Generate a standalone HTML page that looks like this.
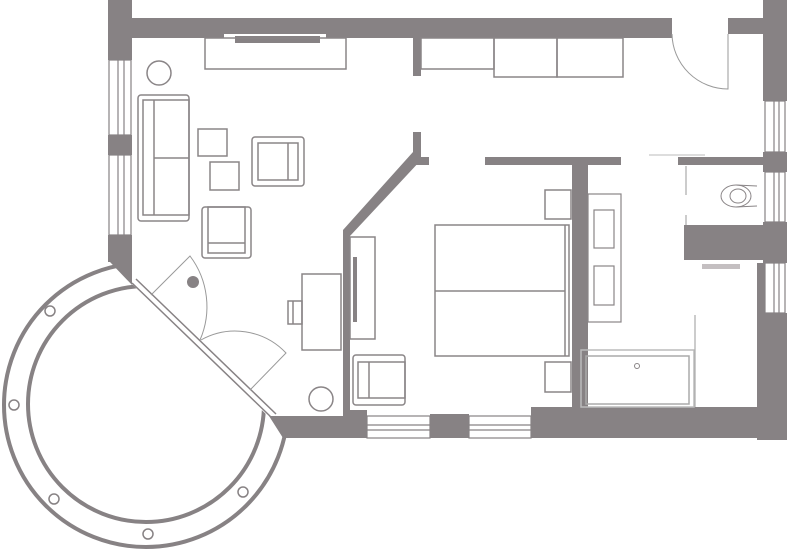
<!DOCTYPE html>
<html><head><style>html,body{margin:0;padding:0;background:#fff}svg{display:block}</style></head>
<body>
<svg width="787" height="549" viewBox="0 0 787 549" xmlns="http://www.w3.org/2000/svg">
<defs>
<clipPath id="cc"><polygon points="0,250 111,250 131,283 270,418 288,436 300,549 0,549"/></clipPath>
</defs>
<g fill="#878284">
<rect x="108" y="0" width="24" height="60"/>
<rect x="108" y="135" width="24" height="20"/>
<polygon points="108,235 132,235 132,285 110,262 108,262"/>
<rect x="132" y="18" width="540" height="20"/>
<rect x="728" y="18" width="37" height="16"/>
<rect x="763" y="0" width="24" height="101"/>
<rect x="763" y="152" width="24" height="20"/>
<rect x="763" y="222" width="24" height="41"/>
<rect x="757" y="313" width="30" height="127"/>
<rect x="757" y="263" width="8" height="50"/>
<rect x="678" y="157" width="85" height="8"/>
<rect x="684" y="225" width="79" height="35"/>
<polygon points="269,416 365,416 365,438 283,438"/>
<rect x="430" y="414" width="39" height="24"/>
<rect x="531" y="407" width="226" height="31"/>
<rect x="531" y="414" width="45" height="24"/>
<rect x="343" y="410" width="24" height="28"/>
<rect x="413" y="38" width="8" height="38"/>
<rect x="413" y="132" width="8" height="26"/>
<rect x="413" y="157" width="16" height="8"/>
<polygon points="413,152 421,160 350,236 350,416 343,416 343,230"/>
<rect x="485" y="157" width="136" height="8"/>
<rect x="572" y="165" width="16" height="250"/>
<circle cx="193" cy="282" r="6"/>
<rect x="353" y="257" width="4" height="65"/>
</g>
<rect x="224" y="34" width="102" height="4" fill="#fff"/>
<rect x="235" y="36" width="85" height="7" fill="#878284"/>
<rect x="702" y="264" width="38" height="5" fill="#c4bfc1"/>
<g fill="none" stroke="#878284" stroke-width="1.2">
<rect x="109" y="60" width="22" height="75"/><line x1="118" y1="60" x2="118" y2="135"/><line x1="124" y1="60" x2="124" y2="135"/>
<rect x="109" y="155" width="22" height="80"/><line x1="118" y1="155" x2="118" y2="235"/><line x1="124" y1="155" x2="124" y2="235"/>
<rect x="765" y="101" width="20" height="51"/><line x1="774" y1="101" x2="774" y2="152"/><line x1="779" y1="101" x2="779" y2="152"/>
<rect x="765" y="172" width="20" height="50"/><line x1="774" y1="172" x2="774" y2="222"/><line x1="779" y1="172" x2="779" y2="222"/>
<rect x="765" y="263" width="20" height="50"/><line x1="774" y1="263" x2="774" y2="313"/><line x1="779" y1="263" x2="779" y2="313"/>
<rect x="367" y="416" width="63" height="22"/><line x1="367" y1="425" x2="430" y2="425"/><line x1="367" y1="430" x2="430" y2="430"/>
<rect x="469" y="416" width="62" height="22"/><line x1="469" y1="425" x2="531" y2="425"/><line x1="469" y1="430" x2="531" y2="430"/>
</g>
<g clip-path="url(#cc)" fill="none" stroke="#878284" stroke-width="4">
<circle cx="146" cy="405" r="142"/>
<circle cx="146" cy="404" r="118"/>
</g>
<g fill="#fff" stroke="#878284" stroke-width="1.5">
<circle cx="50" cy="311" r="5"/><circle cx="14" cy="405" r="5"/><circle cx="54" cy="499" r="5"/><circle cx="148" cy="534" r="5"/><circle cx="243" cy="492" r="5"/>
</g>
<g stroke="#878284" stroke-width="1.5" fill="none">
<line x1="132" y1="283" x2="272" y2="418"/>
<line x1="136" y1="279" x2="276" y2="414"/>
</g>
<g fill="none" stroke="#999" stroke-width="1">
<path d="M151,295 L190,256 A84,84 0 0 1 200,340"/>
<path d="M201,340 A70,70 0 0 1 286,353 L250,390"/>
<path d="M672,34 A56,56 0 0 0 728,89 L728,34"/>
<line x1="649" y1="155" x2="705" y2="155" stroke="#bbb"/>
<line x1="686" y1="166" x2="686" y2="195"/>
<line x1="686" y1="215" x2="686" y2="225"/>
<line x1="695" y1="315" x2="695" y2="407"/>
</g>
<g fill="none" stroke="#8a8587" stroke-width="1.5">
<rect x="205" y="38" width="141" height="31"/>
<circle cx="159" cy="73" r="12"/>
<rect x="138" y="95" width="51" height="126" rx="3"/><rect x="143" y="100" width="46" height="115"/><line x1="154" y1="100" x2="154" y2="215"/><line x1="154" y1="158" x2="189" y2="158"/>
<rect x="198" y="129" width="29" height="27"/>
<rect x="210" y="162" width="29" height="28"/>
<rect x="252" y="137" width="52" height="49" rx="3"/><rect x="258" y="143" width="40" height="37"/><line x1="288" y1="143" x2="288" y2="180"/>
<rect x="202" y="207" width="49" height="51" rx="3"/><rect x="208" y="207" width="37" height="46"/><line x1="208" y1="243" x2="245" y2="243"/>
<circle cx="321" cy="399" r="12"/>
<rect x="302" y="274" width="39" height="76"/>
<rect x="288" y="301" width="14" height="23"/><line x1="293" y1="301" x2="293" y2="324"/>
<rect x="350" y="237" width="25" height="102"/>
<rect x="353" y="355" width="52" height="50" rx="3"/><rect x="358" y="362" width="47" height="36"/><line x1="369" y1="362" x2="369" y2="398"/>
<rect x="435" y="225" width="134" height="131"/><line x1="435" y1="291" x2="565" y2="291"/><line x1="565" y1="225" x2="565" y2="356"/>
<rect x="545" y="190" width="26" height="29"/>
<rect x="545" y="362" width="26" height="30"/>
<rect x="421" y="38" width="73" height="31"/>
<rect x="494" y="38" width="63" height="39"/>
<rect x="557" y="38" width="66" height="39"/>
<rect x="588" y="194" width="33" height="128" stroke-width="1.2"/>
<rect x="594" y="210" width="20" height="38" stroke-width="1.2"/><rect x="594" y="266" width="20" height="39" stroke-width="1.2"/>
<rect x="581" y="350" width="113" height="57" stroke="#bbb"/>
<rect x="586" y="356" width="103" height="48" stroke="#aaa"/>
<circle cx="637" cy="366" r="2.5" stroke-width="1"/>
<ellipse cx="736" cy="196" rx="15" ry="11" stroke-width="1"/>
<ellipse cx="738" cy="196" rx="8" ry="7" stroke-width="1"/>
<line x1="736" y1="185" x2="757" y2="186" stroke-width="1"/><line x1="736" y1="207" x2="757" y2="206" stroke-width="1"/>
</g>
</svg>
</body></html>
